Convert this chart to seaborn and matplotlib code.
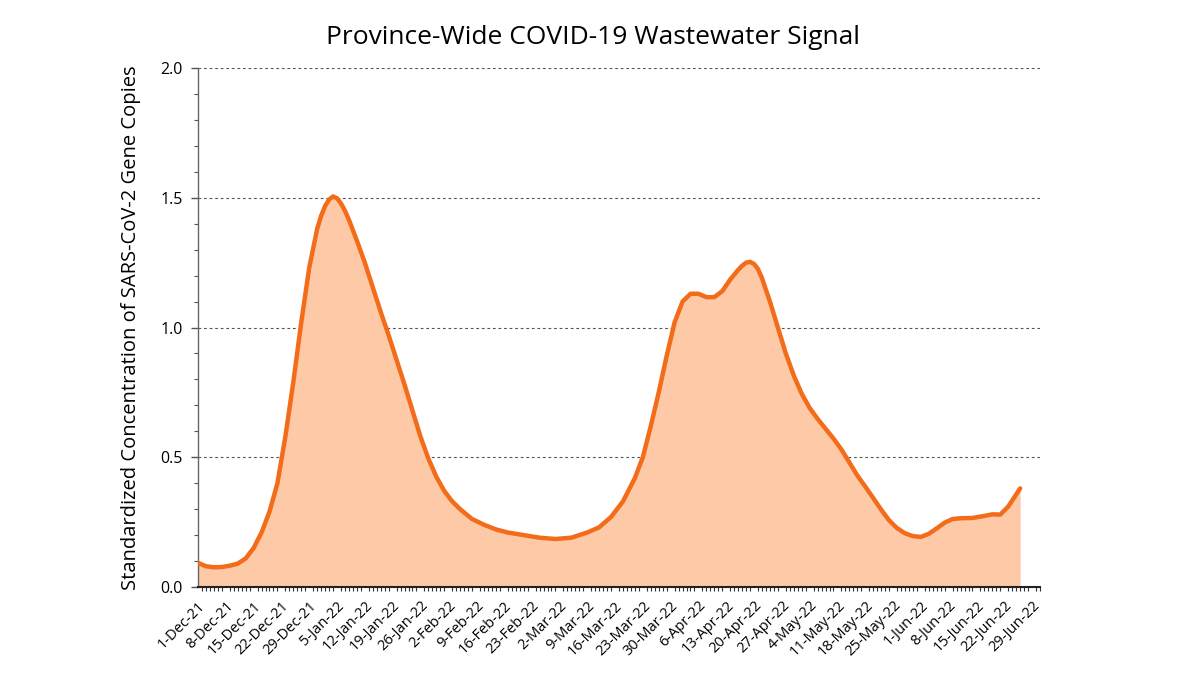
import numpy as np
import pandas as pd
import matplotlib
matplotlib.use("Agg")
import matplotlib.pyplot as plt
import matplotlib.dates as mdates
import seaborn as sns

# ---- data ----
start_date = "2021-12-01"
day_offsets = [0, 2, 4, 6, 8, 10, 12, 14, 16, 18, 20, 22, 24, 26, 28, 30, 31, 32, 33, 34, 35,
               36, 37, 38, 40, 42, 44, 46, 48, 50, 52, 54, 56, 58, 60, 62, 64, 66, 69, 72, 75,
               78, 82, 86, 90, 94, 98, 101, 104, 107, 110, 112, 114, 116, 118, 120, 122, 124,
               126, 128, 130, 132, 134, 136, 137, 138, 139, 140, 141, 142, 144, 146, 148, 150,
               152, 154, 156, 158, 160, 162, 164, 166, 168, 170, 172, 174, 176, 178, 180, 182,
               184, 186, 188, 190, 192, 195, 198, 200, 202, 204, 207]
concentration = [0.093, 0.080, 0.076, 0.077, 0.082, 0.090, 0.11, 0.15, 0.21, 0.29, 0.40, 0.58,
                 0.79, 1.02, 1.23, 1.38, 1.43, 1.468, 1.493, 1.505, 1.498, 1.478, 1.45, 1.415,
                 1.335, 1.25, 1.155, 1.06, 0.97, 0.875, 0.78, 0.68, 0.58, 0.495, 0.425, 0.37,
                 0.33, 0.30, 0.262, 0.24, 0.222, 0.21, 0.20, 0.19, 0.185, 0.19, 0.21, 0.23, 0.27,
                 0.33, 0.42, 0.50, 0.62, 0.75, 0.89, 1.02, 1.10, 1.13, 1.13, 1.117, 1.117, 1.14,
                 1.185, 1.222, 1.238, 1.25, 1.253, 1.245, 1.225, 1.19, 1.10, 1.00, 0.90, 0.815,
                 0.745, 0.69, 0.648, 0.61, 0.572, 0.53, 0.48, 0.43, 0.387, 0.343, 0.298, 0.257,
                 0.227, 0.207, 0.196, 0.193, 0.205, 0.226, 0.248, 0.262, 0.265, 0.266, 0.274,
                 0.28, 0.279, 0.31, 0.38]
title = "Province-Wide COVID-19 Wastewater Signal"
y_label = "Standardized Concentration of SARS-CoV-2 Gene Copies"
y_ticks = [0.0, 0.5, 1.0, 1.5, 2.0]

dates = pd.to_datetime(start_date) + pd.to_timedelta(day_offsets, unit="D")
df = pd.DataFrame({"date": dates, "value": concentration})

sns.set_style("white")
plt.rcParams["font.family"] = ["Open Sans", "DejaVu Sans"]
plt.rcParams["text.color"] = "black"
plt.rcParams["axes.labelcolor"] = "black"
plt.rcParams["xtick.color"] = "black"
plt.rcParams["ytick.color"] = "black"

fig = plt.figure(figsize=(11.86, 6.76), dpi=100)
ax = fig.add_axes([198 / 1186, 1 - 587 / 676, (1040 - 198) / 1186, (587 - 68) / 676])

line_col = "#F26C1A"
fill_col = "#FDC9A6"

ax.fill_between(df["date"], 0, df["value"], color=fill_col, linewidth=0, zorder=1)
sns.lineplot(data=df, x="date", y="value", ax=ax, color=line_col, linewidth=3.2,
             zorder=3, solid_capstyle="round", solid_joinstyle="round")

x0 = pd.Timestamp("2021-12-01")
x1 = pd.Timestamp("2022-07-01")
ax.set_xlim(x0, x1)
ax.set_ylim(0, 2.0)

week_ticks = pd.date_range("2021-12-01", "2022-06-29", freq="7D")
ax.set_xticks(week_ticks)
ax.set_xticklabels([f"{d.day}-{d.strftime('%b-%y')}" for d in week_ticks],
                   rotation=45, ha="right", rotation_mode="anchor", fontsize=10.5)
ax.xaxis.set_minor_locator(mdates.DayLocator())

ax.set_yticks(y_ticks)
ax.set_yticklabels([f"{v:.1f}" for v in y_ticks], fontsize=11.5)
ax.yaxis.set_minor_locator(matplotlib.ticker.MultipleLocator(0.1))

ax.tick_params(axis="x", which="major", direction="inout", length=8, width=1.2,
               color="#222222", pad=4)
ax.tick_params(axis="x", which="minor", direction="out", length=3, width=0.8,
               color="#333333", bottom=True)
ax.tick_params(axis="y", which="major", direction="out", length=5, width=1,
               color="#555555", pad=6, left=True)
ax.tick_params(axis="y", which="minor", direction="out", length=3, width=0.8,
               color="#555555", left=True)

for yv in y_ticks[1:]:
    ax.axhline(yv, color="#555555", linestyle=(0, (2.5, 2.5)), linewidth=0.8, zorder=0)

for s in ["top", "right"]:
    ax.spines[s].set_visible(False)
ax.spines["left"].set_color("#666666")
ax.spines["left"].set_linewidth(1)
ax.spines["bottom"].set_color("#222222")
ax.spines["bottom"].set_linewidth(1.5)

ax.set_xlabel("")
ax.set_ylabel(y_label, fontsize=14.5, labelpad=14)
fig.text(0.5, 1 - 38 / 676, title, ha="center", va="center", fontsize=19)

fig.savefig("out.png", dpi=100, facecolor="white")
